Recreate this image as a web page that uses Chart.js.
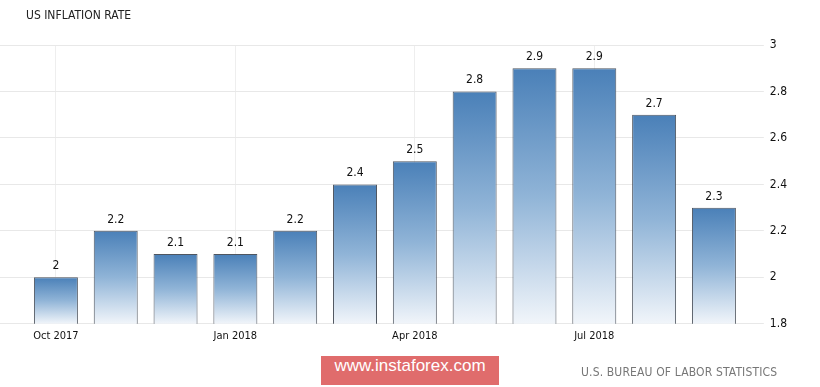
<!DOCTYPE html>
<html>
<head>
<meta charset="utf-8">
<script src="https://cdn.jsdelivr.net/npm/chart.js@4/dist/chart.umd.min.js"></script>
<style>
    html, body { margin: 0; padding: 0; background: #fff; }
    #wrap { position: relative; width: 820px; height: 387px; }
    #title {
        position: absolute; left: 26px; top: 8px;
        font: 12px "DejaVu Sans Condensed", "DejaVu Sans", sans-serif; color: #222;
    }
    #brand {
        position: absolute; left: 321px; top: 356px; width: 178px; height: 29px;
        background: #e06c6c; color: #fff; text-align: center; line-height: 29px;
        font: 17px "Liberation Sans", Arial, sans-serif;
    }
    #source {
        position: absolute; left: 581px; top: 365px;
        font: 12px "DejaVu Sans Condensed", "DejaVu Sans", sans-serif; color: #777;
        letter-spacing: 0.15px;
    }
</style>
</head>
<body>
<div id="wrap">
    <canvas id="inflationChart" width="820" height="387"></canvas>
    <div id="title">US INFLATION RATE</div>
    <div id="brand">www.instaforex.com</div>
    <div id="source">U.S. BUREAU OF LABOR STATISTICS</div>
</div>
<script>
// Data inflasi AS (persen)
const months = ['Oct 2017', 'Nov 2017', 'Dec 2017', 'Jan 2018', 'Feb 2018', 'Mar 2018',
                'Apr 2018', 'May 2018', 'Jun 2018', 'Jul 2018', 'Aug 2018', 'Sep 2018'];
const inflation = [2, 2.2, 2.1, 2.1, 2.2, 2.4, 2.5, 2.8, 2.9, 2.9, 2.7, 2.3];
const xTickLabels = ['Oct 2017', 'Jan 2018', 'Apr 2018', 'Jul 2018'];
const yTicks = [1.8, 2, 2.2, 2.4, 2.6, 2.8, 3];

const fontFamily = '"DejaVu Sans Condensed", "DejaVu Sans", sans-serif';
const gridColor = '#e8e8e8';

// Gradient per batang: biru tua di atas, hampir putih di bawah
function barGradient(context) {
    const chart = context.chart;
    const area = chart.chartArea;
    if (!area) return '#4a80b8';
    const yScale = chart.scales.y;
    const top = yScale.getPixelForValue(inflation[context.dataIndex]);
    const bottom = area.bottom;
    const g = chart.ctx.createLinearGradient(0, top, 0, bottom);
    g.addColorStop(0, '#4a80b8');
    g.addColorStop(0.5, '#90b4d7');
    g.addColorStop(1, '#f1f5fa');
    return g;
}

// Label nilai di atas batang
const valueLabels = {
    id: 'valueLabels',
    afterDatasetsDraw(chart) {
        const ctx = chart.ctx;
        const meta = chart.getDatasetMeta(0);
        ctx.save();
        ctx.font = '12px ' + fontFamily;
        ctx.fillStyle = '#111';
        ctx.textAlign = 'center';
        ctx.textBaseline = 'alphabetic';
        meta.data.forEach((bar, i) => {
            ctx.fillText(String(inflation[i]), bar.x, bar.y - 8);
        });
        ctx.restore();
    }
};

function fixedTicks(scale) {
    scale.ticks = yTicks.map(v => ({ value: v }));
}

new Chart(document.getElementById('inflationChart'), {
    type: 'bar',
    data: {
        labels: months,
        datasets: [{
            data: inflation,
            backgroundColor: barGradient,
            borderColor: '#4f5660',
            borderWidth: 1,
            borderSkipped: false,
            barPercentage: 0.735,
            categoryPercentage: 1
        }]
    },
    options: {
        responsive: false,
        animation: false,
        layout: { padding: { left: 0, right: 27, top: 45, bottom: 38 } },
        plugins: {
            legend: { display: false },
            tooltip: { enabled: false }
        },
        scales: {
            x: {
                offset: true,
                grid: {
                    offset: false,
                    drawTicks: false,
                    color: ctx => (xTickLabels.includes(months[ctx.index]) ? '#eeeeee' : 'rgba(0,0,0,0)')
                },
                border: { display: false },
                ticks: {
                    autoSkip: false,
                    maxRotation: 0,
                    padding: 6,
                    color: '#111',
                    font: { family: fontFamily, size: 11 },
                    callback: function(value, index) {
                        const label = months[index];
                        return xTickLabels.includes(label) ? label : '';
                    }
                }
            },
            y: {
                position: 'right',
                min: 1.8,
                max: 3,
                afterBuildTicks: fixedTicks,
                grid: { color: gridColor, tickLength: 20 },
                border: { display: false },
                ticks: {
                    padding: 6,
                    color: '#111',
                    font: { family: fontFamily, size: 12 },
                    callback: value => String(+value.toFixed(1))
                }
            },
            yLeft: {
                position: 'left',
                min: 1.8,
                max: 3,
                afterBuildTicks: fixedTicks,
                grid: { color: gridColor, tickLength: 26, drawOnChartArea: false },
                border: { display: false },
                ticks: { display: false }
            }
        }
    },
    plugins: [valueLabels]
});
</script>
</body>
</html>
